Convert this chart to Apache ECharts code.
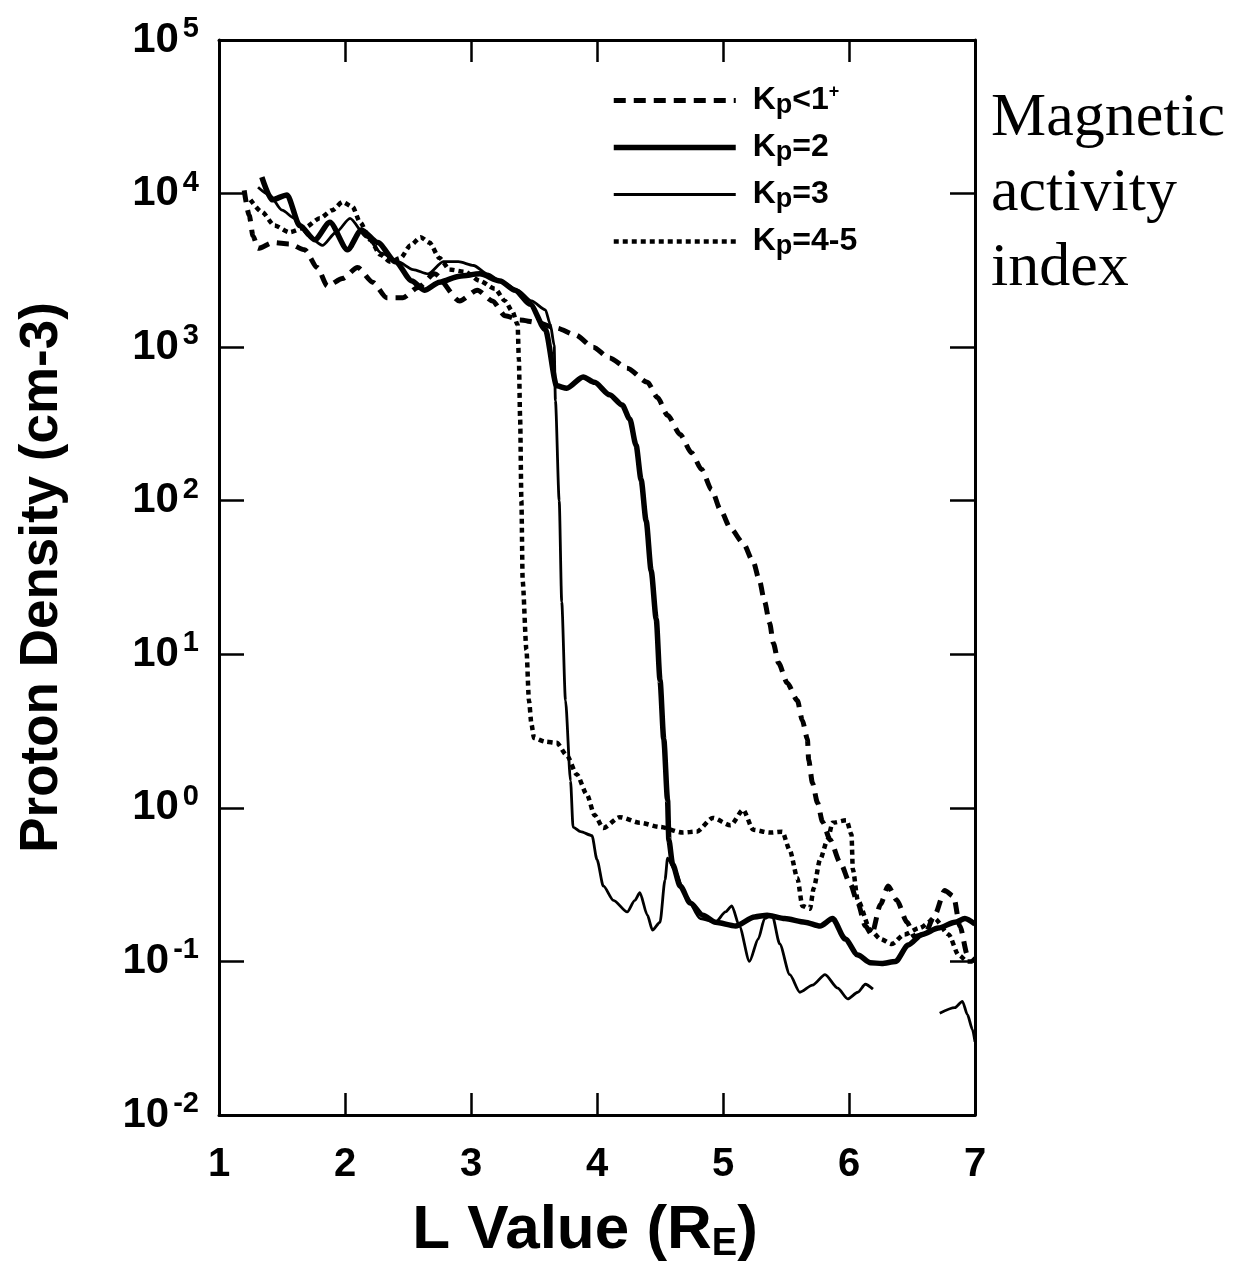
<!DOCTYPE html>
<html>
<head>
<meta charset="utf-8">
<script src="https://cdn.jsdelivr.net/npm/echarts/dist/echarts.min.js"></script>
<style>
  html, body { margin: 0; padding: 0; background: #fff; }
  #chart { width: 1239px; height: 1271px; }
</style>
</head>
<body>
<div id="chart"></div>
<script>
// L value (R_E), proton density (cm-3) pairs
const kpQuiet = [
  [1.20, 10500], [1.24, 7200], [1.27, 5300], [1.31, 4400], [1.43, 4800], [1.56, 4700],
  [1.68, 4300], [1.78, 3300], [1.86, 2500], [1.98, 2800], [2.10, 3300], [2.22, 2650],
  [2.33, 2100], [2.46, 2100], [2.58, 2450], [2.71, 3000], [2.91, 2000], [3.05, 2350],
  [3.17, 2000], [3.27, 1600], [3.39, 1500], [3.52, 1450], [3.68, 1330], [3.83, 1200],
  [3.97, 1000], [4.10, 850], [4.24, 730], [4.40, 590], [4.48, 470], [4.56, 360],
  [4.66, 270], [4.75, 205], [4.83, 160], [4.91, 118], [4.98, 87], [5.06, 66],
  [5.16, 53], [5.24, 40], [5.29, 30], [5.33, 22], [5.37, 16], [5.40, 11.8],
  [5.44, 8.8], [5.51, 6.5], [5.59, 5.0], [5.63, 3.7], [5.67, 2.8], [5.68, 2.05],
  [5.71, 1.45], [5.75, 1.08], [5.79, 0.81], [5.85, 0.62], [5.93, 0.44], [6.01, 0.32],
  [6.07, 0.24], [6.13, 0.17], [6.18, 0.15], [6.25, 0.235], [6.31, 0.31], [6.38, 0.25],
  [6.46, 0.18], [6.52, 0.145], [6.60, 0.15], [6.68, 0.2], [6.76, 0.29], [6.83, 0.265],
  [6.88, 0.17], [6.94, 0.11], [7.0, 0.1]
];

const kp2 = [
  [1.34, 12800], [1.42, 9100], [1.54, 9800], [1.64, 6200], [1.76, 5000], [1.88, 6500],
  [2.02, 4300], [2.13, 5800], [2.26, 4800], [2.40, 3600], [2.53, 2700], [2.63, 2350],
  [2.75, 2650], [2.91, 2900], [3.07, 3000], [3.23, 2700], [3.35, 2350], [3.47, 1900],
  [3.59, 1300], [3.68, 560], [3.76, 540], [3.89, 640], [3.98, 590], [4.10, 490],
  [4.20, 420], [4.26, 340], [4.31, 230], [4.35, 137], [4.39, 74], [4.43, 35],
  [4.47, 17], [4.50, 6.8], [4.53, 2.8], [4.56, 1.13], [4.57, 0.62], [4.60, 0.43],
  [4.66, 0.31], [4.74, 0.24], [4.84, 0.2], [4.94, 0.18], [5.10, 0.17], [5.25, 0.195],
  [5.35, 0.2], [5.49, 0.19], [5.65, 0.18], [5.77, 0.17], [5.87, 0.19], [5.97, 0.14],
  [6.07, 0.11], [6.17, 0.098], [6.26, 0.097], [6.37, 0.1], [6.47, 0.128], [6.58, 0.15],
  [6.71, 0.165], [6.84, 0.18], [6.92, 0.19], [7.0, 0.175]
];

const kp3 = [
  [1.31, 11000], [1.40, 9800], [1.50, 7800], [1.60, 6900], [1.71, 5300], [1.82, 4600],
  [1.93, 5600], [2.04, 6900], [2.17, 5200], [2.29, 4100], [2.42, 3600], [2.54, 3200],
  [2.66, 3000], [2.78, 3600], [2.90, 3600], [3.02, 3400], [3.13, 3000], [3.25, 2650],
  [3.37, 2350], [3.48, 2000], [3.59, 1750], [3.63, 1400], [3.66, 1030], [3.67, 450],
  [3.70, 100], [3.72, 22], [3.75, 5.0], [3.79, 1.5], [3.81, 0.75], [3.87, 0.7],
  [3.96, 0.66], [4.00, 0.46], [4.05, 0.31], [4.13, 0.25], [4.24, 0.21], [4.30, 0.25],
  [4.34, 0.28], [4.40, 0.2], [4.44, 0.16], [4.50, 0.18], [4.54, 0.34], [4.56, 0.47],
  [4.62, 0.39], [4.70, 0.27], [4.82, 0.19], [4.94, 0.18], [5.02, 0.21], [5.07, 0.23],
  [5.13, 0.17], [5.21, 0.1], [5.28, 0.14], [5.33, 0.19], [5.39, 0.2], [5.45, 0.13],
  [5.53, 0.082], [5.61, 0.063], [5.71, 0.07], [5.81, 0.082], [5.91, 0.067], [5.99, 0.057],
  [6.07, 0.063], [6.13, 0.071], [6.19, 0.066], [6.45, '-'], [6.72, 0.046], [6.84, 0.05],
  [6.90, 0.055], [6.94, 0.045], [6.98, 0.036], [7.0, 0.03]
];

const kp45 = [
  [1.25, 9100], [1.34, 7600], [1.44, 6200], [1.56, 5600], [1.68, 6000], [1.80, 6900],
  [1.90, 7800], [1.98, 8800], [2.06, 8200], [2.12, 6500], [2.20, 5000], [2.28, 4000],
  [2.36, 3600], [2.44, 3800], [2.52, 4600], [2.60, 5200], [2.67, 4800], [2.75, 3800],
  [2.83, 3200], [2.95, 3100], [3.07, 2700], [3.19, 2400], [3.27, 2000], [3.33, 1700],
  [3.37, 1400], [3.38, 830], [3.39, 340], [3.40, 100], [3.41, 30], [3.44, 10.7],
  [3.46, 5.0], [3.48, 3.5], [3.50, 2.85], [3.59, 2.7], [3.68, 2.65], [3.76, 2.2],
  [3.84, 1.65], [3.92, 1.22], [3.98, 0.9], [4.05, 0.74], [4.18, 0.87], [4.34, 0.8],
  [4.50, 0.75], [4.68, 0.69], [4.79, 0.7], [4.92, 0.86], [5.06, 0.77], [5.16, 0.97],
  [5.24, 0.72], [5.37, 0.69], [5.47, 0.7], [5.53, 0.53], [5.59, 0.35], [5.63, 0.23],
  [5.69, 0.22], [5.72, 0.3], [5.77, 0.46], [5.83, 0.62], [5.87, 0.8], [5.98, 0.83],
  [6.02, 0.67], [6.03, 0.4], [6.07, 0.25], [6.17, 0.16], [6.25, 0.14], [6.34, 0.13],
  [6.44, 0.15], [6.56, 0.165], [6.68, 0.19], [6.79, 0.15], [6.87, 0.11], [6.94, 0.1],
  [7.0, 0.1]
];

const seriesNames = ['Kp<1+', 'Kp=2', 'Kp=3', 'Kp=4-5'];
// legend text: K, subscript p, rest, optional superscript
const legendParts = {
  'Kp<1+': ['<1', '+'],
  'Kp=2': ['=2', ''],
  'Kp=3': ['=3', ''],
  'Kp=4-5': ['=4-5', '']
};

const lineStyles = {
  'Kp<1+': { color: '#000', width: 5, type: [12, 8] },
  'Kp=2': { color: '#000', width: 5.5, type: 'solid' },
  'Kp=3': { color: '#000', width: 2.8, type: 'solid' },
  'Kp=4-5': { color: '#000', width: 4.5, type: [5, 4] }
};

const sansBold = "'Liberation Sans', Arial, Helvetica, sans-serif";

const chart = echarts.init(document.getElementById('chart'), null, { renderer: 'canvas' });

const baseAxisLine = { show: true, lineStyle: { color: '#000', width: 3 } };
const baseTick = { show: true, inside: true, length: 22, lineStyle: { color: '#000', width: 2.5 } };

const option = {
  animation: false,
  backgroundColor: '#fff',
  title: {
    text: 'Magnetic\nactivity\nindex',
    left: 986,
    top: 76,
    textStyle: {
      fontFamily: "'Liberation Serif', 'Times New Roman', serif",
      fontWeight: 'normal',
      fontSize: 62,
      lineHeight: 75,
      color: '#000'
    }
  },
  legend: {
    orient: 'vertical',
    left: 606,
    top: 77,
    itemWidth: 122,
    itemHeight: 20,
    itemGap: 10,
    data: seriesNames.map(function (n) {
      return { name: n, lineStyle: lineStyles[n], itemStyle: { opacity: 0 } };
    }),
    itemStyle: { opacity: 0, borderWidth: 0 },
    formatter: function (name) {
      const p = legendParts[name];
      let s = '{k|K}{sub|p}{k|' + p[0] + '}';
      if (p[1]) s += '{sup|' + p[1] + '}';
      return s;
    },
    textStyle: {
      padding: [0, 0, 0, 12],
      rich: {
        k: { fontFamily: sansBold, fontWeight: 'bold', fontSize: 32, color: '#000', lineHeight: 33 },
        sub: { fontFamily: sansBold, fontWeight: 'bold', fontSize: 27, color: '#000', padding: [10, 0, 0, 0], lineHeight: 33 },
        sup: { fontFamily: sansBold, fontWeight: 'bold', fontSize: 18, color: '#000', padding: [0, 0, 16, 0], lineHeight: 33 }
      }
    }
  },
  grid: {
    left: 219,
    right: 264,
    top: 40,
    bottom: 156,
    containLabel: false
  },
  xAxis: [
    {
      type: 'value',
      min: 1,
      max: 7,
      interval: 1,
      position: 'bottom',
      axisLine: baseAxisLine,
      axisTick: baseTick,
      splitLine: { show: false },
      axisLabel: {
        margin: 30,
        fontFamily: sansBold,
        fontWeight: 'bold',
        fontSize: 40,
        color: '#000'
      },
      name: '{t|L Value (R}{sub|E}{t|)}',
      nameLocation: 'middle',
      nameGap: 82,
      nameTextStyle: {
        padding: [0, 24, 0, 0],
        rich: {
          t: { fontFamily: sansBold, fontWeight: 'bold', fontSize: 62, color: '#000', lineHeight: 68 },
          sub: { fontFamily: sansBold, fontWeight: 'bold', fontSize: 38, color: '#000', padding: [28, 0, 0, 0], lineHeight: 68 }
        }
      }
    },
    {
      type: 'value',
      min: 1,
      max: 7,
      interval: 1,
      position: 'top',
      axisLine: baseAxisLine,
      axisTick: baseTick,
      axisLabel: { show: false },
      splitLine: { show: false }
    }
  ],
  yAxis: [
    {
      type: 'log',
      logBase: 10,
      min: 0.01,
      max: 100000,
      position: 'left',
      axisLine: baseAxisLine,
      axisTick: { show: true, inside: true, length: 25, lineStyle: { color: '#000', width: 2.5 } },
      splitLine: { show: false },
      axisLabel: {
        margin: 20,
        formatter: function (v) {
          const e = Math.round(Math.log10(v));
          return '{b|10}{s|' + e + '}';
        },
        rich: {
          b: { fontFamily: sansBold, fontWeight: 'bold', fontSize: 42, color: '#000', lineHeight: 46 },
          s: { fontFamily: sansBold, fontWeight: 'bold', fontSize: 29, color: '#000', padding: [0, 0, 22, 4], lineHeight: 46 }
        }
      },
      name: 'Proton Density (cm-3)',
      nameLocation: 'middle',
      nameGap: 150,
      nameRotate: 90,
      nameTextStyle: {
        fontFamily: sansBold,
        fontWeight: 'bold',
        fontSize: 53,
        color: '#000'
      }
    },
    {
      type: 'log',
      logBase: 10,
      min: 0.01,
      max: 100000,
      position: 'right',
      axisLine: baseAxisLine,
      axisTick: { show: true, inside: true, length: 25, lineStyle: { color: '#000', width: 2.5 } },
      axisLabel: { show: false },
      splitLine: { show: false }
    }
  ],
  series: seriesNames.map(function (n, i) {
    return {
      name: n,
      type: 'line',
      data: [kpQuiet, kp2, kp3, kp45][i],
      symbol: 'none',
      smooth: 0.25,
      smoothMonotone: 'x',
      connectNulls: false,
      lineStyle: lineStyles[n],
      itemStyle: { color: '#000' }
    };
  })
};

chart.setOption(option);
</script>
</body>
</html>
